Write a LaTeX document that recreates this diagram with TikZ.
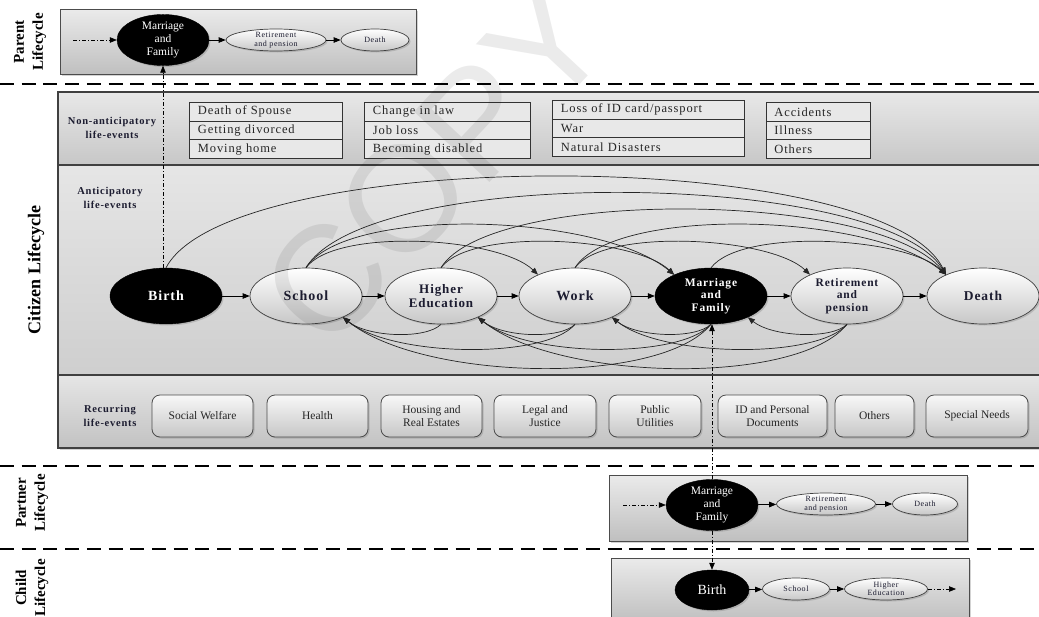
\documentclass[tikz,border=0pt]{standalone}
\usepackage{fontspec}
\setmainfont{Liberation Serif}
\newfontfamily\lsfont[LetterSpace=7]{Liberation Serif}
\newfontfamily\wmfont{Liberation Sans}
\usetikzlibrary{arrows.meta,shapes.geometric,shadows}
\definecolor{txt}{RGB}{28,28,48}
\begin{document}
\begin{tikzpicture}[x=1pt,y=-1pt,
  tip/.style={-{Triangle[length=7pt,width=5.5pt]}},
  dd/.style={line width=0.6pt, dash pattern=on 4pt off 2pt on 1pt off 2pt},
  arcl/.style={line width=0.7pt, draw=black!85, tip},
  sepline/.style={line width=1.8pt, dash pattern=on 14pt off 7.7pt},
  shd/.style={drop shadow={opacity=0.35, shadow xshift=1.5pt, shadow yshift=-1.5pt}},
  base/.style={ellipse, inner sep=0pt, align=center, shd},
  gnode/.style={base, draw=black!75, line width=0.7pt, top color=white, bottom color=black!22, text=txt},
  knode/.style={base, draw=black, fill=black, text=white},
  big/.style={minimum width=112pt, minimum height=56pt},
  bigf/.style={font=\lsfont\bfseries\fontsize{14}{15}\selectfont},
  medf/.style={font=\lsfont\bfseries\fontsize{11.5}{12.5}\selectfont},
  smallnode/.style={gnode, minimum height=22pt, font=\lsfont\fontsize{8}{8.5}\selectfont},
  panel/.style={draw=black!70, line width=0.9pt, top color=black!8, bottom color=black!25, shd},
  cell/.style={draw=black!80, line width=0.9pt, fill=black!9, anchor=north west, inner xsep=8.5pt, inner ysep=0pt, minimum height=18.7pt, align=left, font=\lsfont\fontsize{12.5}{13}\selectfont, text=black!85},
  rbox/.style={draw=black!70, line width=0.8pt, rounded corners=8pt, top color=black!3, bottom color=black!22, shd, align=center, minimum height=42pt, inner sep=0pt, font=\fontsize{11.5}{13}\selectfont, text=black!85},
  rowlab/.style={align=center, font=\lsfont\bfseries\fontsize{10.5}{14}\selectfont, text=txt},
  side/.style={rotate=90, align=center, font=\bfseries\fontsize{15}{19}\selectfont}
]
\useasboundingbox (0,0) rectangle (1039,616);

% ---------- separators ----------
\draw[sepline] (0,84) -- (1039,84);
\draw[sepline] (0,466) -- (1039,466);
\draw[sepline] (0,549) -- (1039,549);

% ---------- side labels ----------
\node[side] (pl) at (30,42) {Parent\\Lifecycle};
\node[side, font=\bfseries\fontsize{18}{18}\selectfont] (cl) at (36,270) {Citizen Lifecycle};
\node[side] (ptl) at (32,503) {Partner\\Lifecycle};
\node[side] (chl) at (32,588) {Child\\Lifecycle};

% ---------- parent lifecycle ----------
\draw[panel] (60,9) rectangle (416,74);
\node[knode, minimum width=92pt, minimum height=48pt, font=\fontsize{11.5}{13}\selectfont] (pM) at (163,40) {Marriage\\and\\Family};
\node[smallnode, minimum width=100pt] (pR) at (276,40) {Retirement\\and pension};
\node[smallnode, minimum width=68pt] (pD) at (375,40) {Death};
\coordinate (pS) at (73,40);
\draw[dd, tip] (pS) -- (pM);
\draw[tip, line width=0.7pt] (pM) -- (pR);
\draw[tip, line width=0.7pt] (pR) -- (pD);

% ---------- citizen lifecycle panel ----------
\fill[black!20, shd] (58,92) rectangle (1045,448);
\fill[top color=black!9, bottom color=black!22] (58,92) rectangle (1045,165);
\fill[top color=black!10, bottom color=black!19] (58,165) rectangle (1045,375);
\fill[top color=black!10, bottom color=black!24] (58,375) rectangle (1045,448);
\draw[black!75, line width=1.2pt] (58,92) rectangle (1045,448);
\draw[black!75, line width=1.2pt] (58,165) -- (1045,165);
\draw[black!75, line width=1.2pt] (58,375) -- (1045,375);

\node[rowlab] (nal) at (112,128) {Non-anticipatory\\life-events};
\node[rowlab] (al) at (110,198) {Anticipatory\\life-events};
\node[rowlab] (rl) at (110,416) {Recurring\\life-events};

% non-anticipatory tables
\node[cell, text width=136pt] (t11) at (189,102) {Death of Spouse};
\node[cell, text width=136pt] (t12) at (189,120.7) {Getting divorced};
\node[cell, text width=136pt] (t13) at (189,139.4) {Moving home};
\node[cell, text width=149pt] (t21) at (364,102) {Change in law};
\node[cell, text width=149pt] (t22) at (364,120.7) {Job loss};
\node[cell, text width=149pt] (t23) at (364,139.4) {Becoming disabled};
\node[cell, text width=175pt] (t31) at (552,100) {Loss of ID card/passport};
\node[cell, text width=175pt] (t32) at (552,118.7) {War};
\node[cell, text width=175pt] (t33) at (552,137.4) {Natural Disasters};
\node[cell, text width=88pt, inner xsep=8pt] (t41) at (766,102) {Accidents};
\node[cell, text width=88pt, inner xsep=8pt] (t42) at (766,120.7) {Illness};
\node[cell, text width=88pt, inner xsep=8pt] (t43) at (766,139.4) {Others};

% recurring boxes
\node[rbox, minimum width=101pt] (r1) at (202.5,416) {Social Welfare};
\node[rbox, minimum width=101pt] (r2) at (317.5,416) {Health};
\node[rbox, minimum width=101pt] (r3) at (431.5,416) {Housing and\\Real Estates};
\node[rbox, minimum width=102pt] (r4) at (545,416) {Legal and\\Justice};
\node[rbox, minimum width=92pt] (r5) at (655,416) {Public\\Utilities};
\node[rbox, minimum width=109pt] (r6) at (772.5,416) {ID and Personal\\Documents};
\node[rbox, minimum width=79pt] (r7) at (874.5,416) {Others};
\node[rbox, minimum width=102pt] (r8) at (977,416) {Special Needs};

% anticipatory nodes
\node[knode, big, bigf] (B) at (166,296) {Birth};
\node[gnode, big, bigf] (S) at (306,296) {School};
\node[gnode, big, font=\lsfont\bfseries\fontsize{13}{14}\selectfont] (H) at (441,296) {Higher\\Education};
\node[gnode, big, bigf] (W) at (575,296) {Work};
\node[knode, big, medf] (M) at (711,296) {Marriage\\and\\Family};
\node[gnode, big, medf] (R) at (847,296) {Retirement\\and\\pension};
\node[gnode, big, font=\lsfont\bfseries\fontsize{13.5}{15}\selectfont] (D) at (983,296) {Death};

\foreach \a/\b in {B/S,S/H,H/W,W/M,M/R,R/D}
  \draw[tip, line width=0.7pt] (\a) -- (\b);

% forward arcs (top)
\draw[arcl] (B.north) .. controls +(64,-122) and +(-64,-130) .. (D.150);
\draw[arcl] (S.north) .. controls +(64,-104) and +(-64,-104) .. (D.150);
\draw[arcl] (H.north) .. controls +(50,-80) and +(-70,-84) .. (D.150);
\draw[arcl] (W.north) .. controls +(40,-62) and +(-75,-62) .. (D.150);
\draw[arcl] (M.north) .. controls +(30,-40) and +(-40,-38) .. (D.150);
\draw[arcl] (S.north) .. controls +(40,-62) and +(-75,-62) .. (M.150);
\draw[arcl] (H.north) .. controls +(30,-40) and +(-40,-38) .. (M.150);
\draw[arcl] (S.north) .. controls +(30,-40) and +(-40,-38) .. (W.150);
\draw[arcl] (W.north) .. controls +(30,-40) and +(-40,-38) .. (R.150);

% backward arcs (bottom)
\draw[arcl] (H.south) .. controls +(-15,15) and +(25,20) .. (S.-30);
\draw[arcl] (W.south) .. controls +(-30,35) and +(50,40) .. (S.-30);
\draw[arcl] (M.south) .. controls +(-50,62) and +(80,64) .. (S.-30);
\draw[arcl] (W.south) .. controls +(-15,15) and +(25,20) .. (H.-30);
\draw[arcl] (M.south) .. controls +(-30,35) and +(50,40) .. (H.-30);
\draw[arcl] (R.south) .. controls +(-50,62) and +(80,64) .. (H.-30);
\draw[arcl] (M.south) .. controls +(-15,15) and +(25,20) .. (W.-30);
\draw[arcl] (R.south) .. controls +(-30,35) and +(50,40) .. (W.-30);
\draw[arcl] (R.south) .. controls +(-15,15) and +(25,20) .. (M.-30);

% ---------- partner lifecycle ----------
\draw[panel] (609,475) rectangle (967,541);
\node[knode, minimum width=92pt, minimum height=42pt, font=\fontsize{11.5}{13}\selectfont] (ptM) at (712,505) {Marriage\\and\\Family};
\node[smallnode, minimum width=99pt] (ptR) at (826,504) {Retirement\\and pension};
\node[smallnode, minimum width=65pt] (ptD) at (925,504) {Death};
\coordinate (ptS) at (623,505);
\draw[dd, tip] (ptS) -- (ptM);
\draw[tip, line width=0.7pt] (ptM) -- (ptR);
\draw[tip, line width=0.7pt] (ptR) -- (ptD);

% ---------- child lifecycle ----------
\draw[panel] (611,558) rectangle (969,622);
\node[knode, minimum width=74pt, minimum height=40pt, font=\fontsize{14}{14}\selectfont] (cB) at (712,590) {Birth};
\node[smallnode, minimum width=67pt] (cS) at (796,589) {School};
\node[smallnode, minimum width=83pt] (cH) at (886,589) {Higher\\Education};
\coordinate (cE) at (956,589);
\draw[tip, line width=0.7pt] (cB) -- (cS);
\draw[tip, line width=0.7pt] (cS) -- (cH);
\draw[dd, tip] (cH) -- (cE);

% ---------- cross-lifecycle links ----------
\draw[dd, tip] (pM.south |- B.north) -- (pM.south);
\draw[dd, tip] (ptM.north) -- (ptM.north |- M.south);
\draw[dd, tip] (ptM.south) -- (cB.north);

% ---------- watermark ----------
\node[rotate=47, text=black, opacity=0.08, font=\wmfont\fontsize{150}{150}\selectfont] (wm) at (435,165) {COPY};
\end{tikzpicture}
\end{document}
